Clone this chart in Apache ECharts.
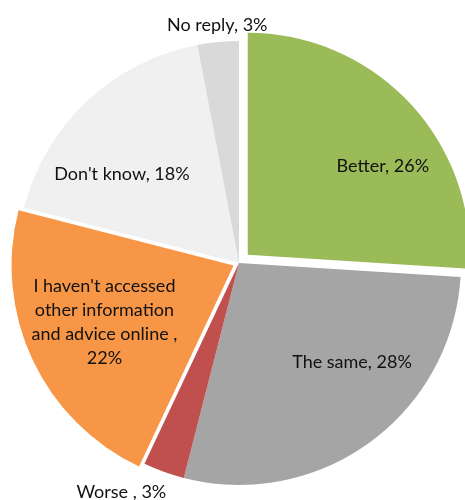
<!DOCTYPE html>
<html>
<head>
<meta charset="utf-8">
<script src="https://cdn.jsdelivr.net/npm/echarts@6/dist/echarts.min.js"></script>
<style>
  html, body { margin: 0; padding: 0; background: #fff; }
  #chart { width: 465px; height: 500px; }
</style>
</head>
<body>
<div id="chart"></div>
<script>
// Survey answers and their shares (percent)
const categories = [
  'Better',
  'The same',
  'Worse ',
  "I haven't accessed\nother information\nand advice online ",
  "Don't know",
  'No reply'
];
const shares = [26, 28, 3, 22, 18, 3];

const sliceColors = ['#9BBB59', '#A5A5A5', '#C0504D', '#F79646', '#F0F0F0', '#D9D9D9'];
// label nudges from the default inside position
const labelShift = [[52, -11], [46, 7], [-79, 122], [-26, 8], [-39, -6], [-11, -124]];

const pulledMore = 0;   // index of the slice pulled furthest out
const pulledLess = 3;   // index of the slice pulled out slightly

const labelFont = { fontFamily: 'Lato, "Liberation Sans", sans-serif', fontSize: 18, color: '#111', lineHeight: 24 };

function fmt(p) {
  const sep = p.name.indexOf('\n') >= 0 ? ',\n' : ', ';
  return p.name + sep + p.value + '%';
}

const mainData = categories.map((name, i) => {
  const item = { name, value: shares[i], itemStyle: { color: sliceColors[i] } };
  if (i === pulledMore) item.selected = true;
  if (i === pulledLess) {
    item.itemStyle = { color: 'rgba(0,0,0,0)' };
    item.label = { show: false };
  }
  return item;
});

const sideData = categories.map((name, i) => {
  if (i === pulledLess) {
    return { name, value: shares[i], selected: true, itemStyle: { color: sliceColors[i] } };
  }
  return { name, value: shares[i], itemStyle: { color: 'rgba(0,0,0,0)' }, label: { show: false } };
});

const common = {
  type: 'pie',
  center: [239, 263],
  radius: 222,
  startAngle: 90,
  clockwise: true,
  avoidLabelOverlap: false,
  selectedMode: 'multiple',
  label: Object.assign({ show: true, position: 'inside', formatter: fmt, align: 'center' }, labelFont),
  labelLine: { show: false },
  emphasis: { disabled: true },
  itemStyle: { borderWidth: 0 },
  labelLayout: function (params) {
    const s = labelShift[params.dataIndex];
    return { dx: s[0], dy: s[1] };
  }
};

const chart = echarts.init(document.getElementById('chart'), null, { renderer: 'canvas' });
chart.setOption({
  animation: false,
  backgroundColor: '#ffffff',
  series: [
    Object.assign({}, common, { id: 'side', selectedOffset: 6, data: sideData, silent: true }),
    Object.assign({}, common, { id: 'main', selectedOffset: 12, data: mainData })
  ]
});
</script>
</body>
</html>
